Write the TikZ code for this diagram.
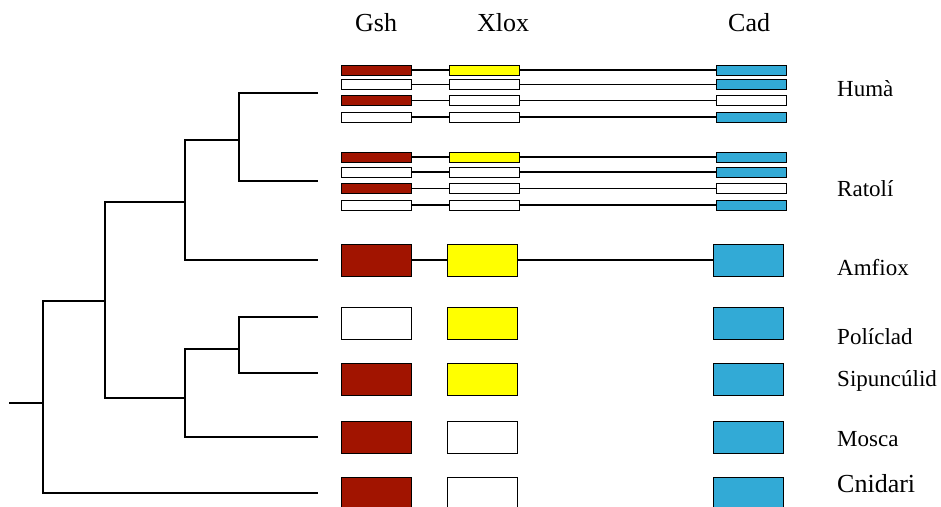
\documentclass[tikz,border=0pt]{standalone}
\usepackage{fontspec}
\setmainfont{Liberation Serif}
\definecolor{gshred}{RGB}{161,20,0}
\definecolor{xloxyellow}{RGB}{255,255,0}
\definecolor{cadblue}{RGB}{50,170,214}
\tikzset{
  gene/.style={draw=black, line width=1pt, inner sep=0pt, minimum width=70pt},
  smallbar/.style={gene, minimum height=10pt},
  bigbox/.style={gene, minimum height=32pt},
  link/.style={line width=1.4pt},
  branch/.style={line width=2pt},
  taxon/.style={anchor=base west, inner sep=0pt, font=\fontsize{23}{27}\selectfont},
  header/.style={anchor=base west, inner sep=0pt, font=\fontsize{26}{30}\selectfont},
}
\begin{document}
\begin{tikzpicture}[x=1pt,y=-1pt]
\useasboundingbox (0,0) rectangle (941,506);
% headers
\node[header] (hG) at (355,31) {Gsh};
\node[header] (hX) at (477,31) {Xlox};
\node[header] (hC) at (728,31) {Cad};
% small bars (human and mouse)
\foreach \p/\r/\y/\fg/\fx/\fc in {
  H/1/70/gshred/xloxyellow/cadblue, H/2/84.3/white/white/cadblue,
  H/3/100.5/gshred/white/white, H/4/117/white/white/cadblue,
  R/1/157/gshred/xloxyellow/cadblue, R/2/172/white/white/cadblue,
  R/3/188.5/gshred/white/white, R/4/205/white/white/cadblue} {
  \node[smallbar, fill=\fg] (\p\r-g) at (376,\y) {};
  \node[smallbar, fill=\fx] (\p\r-x) at (484,\y) {};
  \node[smallbar, fill=\fc] (\p\r-c) at (751,\y) {};
  \draw[link] (\p\r-g) -- (\p\r-x) -- (\p\r-c);
}
% big boxes
\foreach \p/\y/\fg/\fx/\fc in {
  A/260/gshred/xloxyellow/cadblue, P/323/white/xloxyellow/cadblue,
  S/379/gshred/xloxyellow/cadblue, M/437/gshred/white/cadblue,
  C/493/gshred/white/cadblue} {
  \node[bigbox, fill=\fg] (\p-g) at (376,\y) {};
  \node[bigbox, fill=\fx] (\p-x) at (482,\y) {};
  \node[bigbox, fill=\fc] (\p-c) at (748,\y) {};
}
\draw[link] (A-g) -- (A-x) -- (A-c);
% taxa
\node[taxon] (tH) at (837,96) {Humà};
\node[taxon] (tR) at (837,196.7) {Ratolí};
\node[taxon] (tA) at (837,275) {Amfiox};
\node[taxon] (tP) at (837,344.3) {Políclad};
\node[taxon] (tS) at (837,386.7) {Sipuncúlid};
\node[taxon] (tM) at (837,446.7) {Mosca};
\node[taxon, font=\fontsize{26}{30}\selectfont] (tC) at (837,492.7) {Cnidari};
% tree
\coordinate (stub) at (9,403.3);
\coordinate (r) at (43.3,403.3);
\coordinate (a) at (105.3,300.7);
\coordinate (b) at (185,201.7);
\coordinate (c) at (238.7,140);
\coordinate (d) at (185,398.3);
\coordinate (e) at (238.5,348.7);
\coordinate (lH) at (318,93.3);
\coordinate (lR) at (318,181);
\coordinate (lA) at (318,260);
\coordinate (lP) at (318,316.7);
\coordinate (lS) at (318,373.3);
\coordinate (lM) at (318,436.7);
\coordinate (lC) at (318,493.3);
\draw[branch] (stub) -- (r);
\draw[branch] (a) -| (r) |- (lC);
\draw[branch] (b) -| (a) |- (d);
\draw[branch] (c) -| (b) |- (lA);
\draw[branch] (lH) -| (c) |- (lR);
\draw[branch] (e) -| (d) |- (lM);
\draw[branch] (lP) -| (e) |- (lS);
\end{tikzpicture}
\end{document}
